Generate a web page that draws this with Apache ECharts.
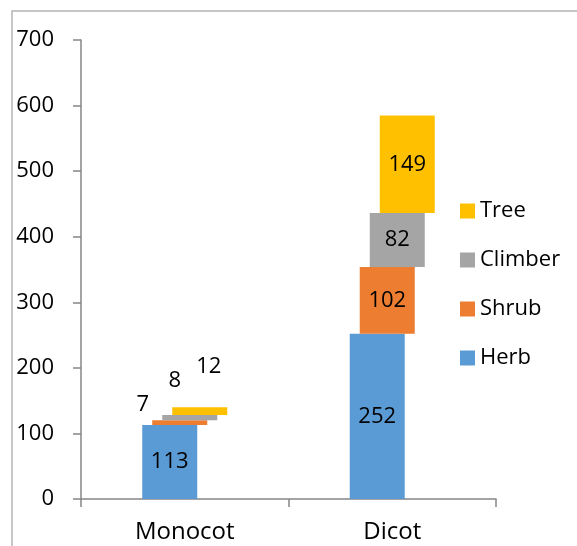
<!DOCTYPE html>
<html>
<head>
<meta charset="utf-8">
<script src="https://cdn.jsdelivr.net/npm/echarts@6/dist/echarts.min.js"></script>
<style>
html,body{margin:0;padding:0;background:#fff;}
#chart{width:577px;height:546px;}
</style>
</head>
<body>
<div id="chart"></div>
<script>
const categories = ['Monocot', 'Dicot'];
const herb = [113, 252];
const shrub = [7, 102];
const climber = [8, 82];
const tree = [12, 149];
const yTicks = [0, 100, 200, 300, 400, 500, 600, 700];

const FONT = '"Open Sans", sans-serif';
const colors = { Herb: '#5B9BD5', Shrub: '#ED7D31', Climber: '#A5A5A5', Tree: '#FFC000' };

// cumulative bases for the floating (offset) stacked segments
const base1 = herb.map((v, i) => v);
const base2 = herb.map((v, i) => v + shrub[i]);
const base3 = herb.map((v, i) => v + shrub[i] + climber[i]);

// label placement for small Monocot segments (drawn outside, as in the original)
const smallLabel = {
  Shrub: { position: 'top', distance: 5, offset: [-37, 0] },
  Climber: { position: 'top', distance: 5, offset: [-15, -18] },
  Tree: { position: 'top', distance: 5, offset: [9, -24] }
};

const BW = 55, GAP = '-81.8%';
const labelStyle = { show: true, position: 'inside', color: '#000', fontFamily: FONT, fontSize: 22 };

function visible(name, values, stack) {
  return {
    name: name, type: 'bar', stack: stack, barWidth: BW, barGap: GAP,
    itemStyle: { color: colors[name] },
    label: labelStyle,
    emphasis: { disabled: true },
    data: values.map((v, i) => {
      if (i === 0 && smallLabel[name]) {
        return { value: v, label: Object.assign({}, labelStyle, smallLabel[name]) };
      }
      return v;
    })
  };
}
function hidden(values, stack) {
  return {
    name: '_base_' + stack, type: 'bar', stack: stack, barWidth: BW, barGap: GAP,
    itemStyle: { color: 'rgba(0,0,0,0)' },
    label: { show: false }, emphasis: { disabled: true }, silent: true,
    data: values
  };
}

const chart = echarts.init(document.getElementById('chart'), null, { renderer: 'canvas' });
chart.setOption({
  animation: false,
  backgroundColor: '#fff',
  textStyle: { fontFamily: FONT },
  grid: { left: 81, right: 81, top: 40, bottom: 47 },
  graphic: [{
    type: 'rect', shape: { x: 12, y: 11, width: 700, height: 700 },
    style: { fill: 'none', stroke: '#b4b4b4', lineWidth: 1.5 }, silent: true, z: -1
  }],
  legend: {
    data: ['Tree', 'Climber', 'Shrub', 'Herb'],
    orient: 'vertical', left: 455, top: 195,
    itemWidth: 15, itemHeight: 15, itemGap: 27,
    icon: 'rect',
    textStyle: { fontFamily: FONT, fontSize: 22, color: '#000', lineHeight: 22 }
  },
  xAxis: {
    type: 'category', data: categories,
    axisLine: { lineStyle: { color: '#868686', width: 1.5 } },
    axisTick: { show: true, length: 8, lineStyle: { color: '#868686', width: 1.5 } },
    axisLabel: { color: '#000', fontFamily: FONT, fontSize: 24, margin: 21 }
  },
  yAxis: {
    type: 'value', min: yTicks[0], max: yTicks[yTicks.length - 1], interval: 100,
    splitLine: { show: false },
    axisLine: { show: true, lineStyle: { color: '#868686', width: 1.5 } },
    axisTick: { show: true, length: 8, lineStyle: { color: '#868686', width: 1.5 } },
    axisLabel: { color: '#000', fontFamily: FONT, fontSize: 22, margin: 27 }
  },
  series: [
    visible('Herb', herb, 'h'),
    hidden(base1, 's'), visible('Shrub', shrub, 's'),
    hidden(base2, 'c'), visible('Climber', climber, 'c'),
    hidden(base3, 't'), visible('Tree', tree, 't')
  ]
});
</script>
</body>
</html>
